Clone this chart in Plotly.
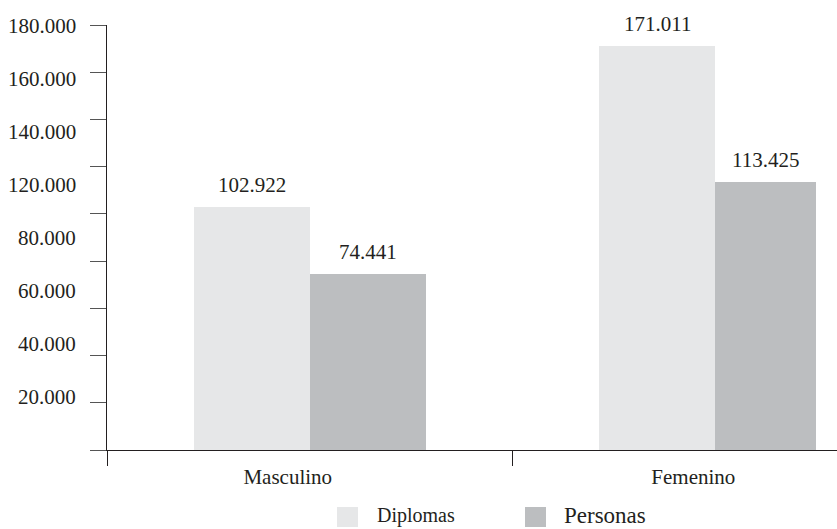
import plotly.graph_objects as go

# Data
categories = ["Masculino", "Femenino"]
diplomas = [102922, 171011]
personas = [74441, 113425]
series_names = ["Diplomas", "Personas"]

# Tick labels printed along the value axis
ytick_labels = ["180.000", "160.000", "140.000", "120.000", "80.000", "60.000", "40.000", "20.000"]
ytick_vals = [0, 20000, 40000, 60000, 80000, 100000, 120000, 140000, 160000, 180000]

INK = "#231f20"
C_DIP = "#e6e7e8"
C_PER = "#bcbec0"
FONT = "Liberation Serif"
FS = 21

BAR_W = 0.286
per_widths = [BAR_W, 0.249]

def fmt(v):
    return f"{v:,}".replace(",", ".")

fig = go.Figure()
fig.add_trace(go.Bar(
    x=categories, y=diplomas, name=series_names[0],
    marker=dict(color=C_DIP, line=dict(width=0)),
    width=[BAR_W] * len(categories), offset=[-BAR_W] * len(categories),
    showlegend=False,
))
fig.add_trace(go.Bar(
    x=categories, y=personas, name=series_names[1],
    marker=dict(color=C_PER, line=dict(width=0)),
    width=per_widths, offset=[0] * len(categories),
    showlegend=False,
))

annotations = []
# value labels above bars
for i, v in enumerate(diplomas):
    annotations.append(dict(x=i - BAR_W / 2, y=v, xref="x", yref="y", text=fmt(v),
                            showarrow=False, yanchor="bottom", yshift=8,
                            font=dict(family=FONT, size=FS, color=INK)))
for i, v in enumerate(personas):
    annotations.append(dict(x=i + per_widths[i] / 2, y=v, xref="x", yref="y", text=fmt(v),
                            showarrow=False, yanchor="bottom", yshift=8,
                            font=dict(family=FONT, size=FS, color=INK)))

# value-axis labels, evenly stacked from top to bottom
PLOT_TOP, PLOT_BOT = 25, 450
lab_top, lab_bot = 25.5, 397
n = len(ytick_labels)
for k, t in enumerate(ytick_labels):
    py = lab_top + (lab_bot - lab_top) * k / (n - 1)
    frac = (PLOT_BOT - py) / (PLOT_BOT - PLOT_TOP)
    annotations.append(dict(x=0, y=frac, xref="paper", yref="paper", text=t,
                            showarrow=False, xanchor="right", yanchor="middle", xshift=-29,
                            font=dict(family=FONT, size=FS, color=INK)))

# legend
shapes = []
leg = [(series_names[0], C_DIP, 337, 375, 20), (series_names[1], C_PER, 525, 562, 23)]
for name, col, sx, tx, fs in leg:
    shapes.append(dict(type="rect", xref="paper", yref="paper",
                       x0=(sx - 107) / 730, x1=(sx + 21 - 107) / 730,
                       y0=(PLOT_BOT - 507) / 425, y1=(PLOT_BOT - 527) / 425,
                       fillcolor=col, line=dict(width=0)))
    annotations.append(dict(x=(tx - 107) / 730, y=(PLOT_BOT - 515) / 425, xref="paper", yref="paper",
                            text=name, showarrow=False, xanchor="left", yanchor="middle",
                            font=dict(family=FONT, size=fs, color=INK)))

fig.update_layout(
    width=837, height=529,
    margin=dict(l=107, r=0, t=PLOT_TOP, b=529 - PLOT_BOT),
    paper_bgcolor="white", plot_bgcolor="white",
    barmode="group", bargap=0, bargroupgap=0,
    font=dict(family=FONT, size=FS, color=INK),
    annotations=annotations, shapes=shapes,
    showlegend=False,
    xaxis=dict(
        type="category", range=[-0.5, 1.3],
        showline=True, linecolor=INK, linewidth=1.3,
        ticks="outside", tickson="boundaries", ticklen=15, tickcolor=INK, tickwidth=1.3,
        showgrid=False, zeroline=False,
        tickfont=dict(family=FONT, size=FS, color=INK),
        ticklabelshift=-22, ticklabelstandoff=8,
        fixedrange=True,
    ),
    yaxis=dict(
        range=[0, 180000], tickvals=ytick_vals, showticklabels=False,
        showline=True, linecolor=INK, linewidth=1.3,
        ticks="outside", ticklen=16, tickcolor="#555", tickwidth=1.3,
        showgrid=False, zeroline=False, fixedrange=True,
    ),
)

fig.write_html("out.html")
